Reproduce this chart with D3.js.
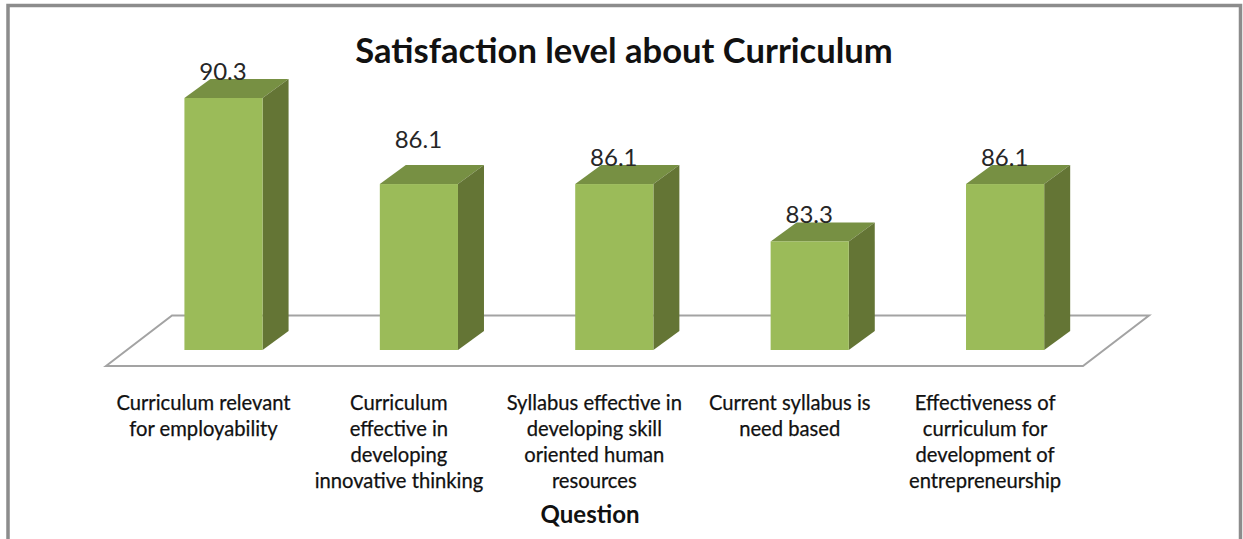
<!DOCTYPE html>
<html lang="en">
<head>
<meta charset="utf-8">
<title>Satisfaction level about Curriculum</title>
<script src="https://cdnjs.cloudflare.com/ajax/libs/d3/7.8.5/d3.min.js"></script>
<style>
    body { margin: 0; background: #fff; }
    svg { display: block; }
    text { font-family: Lato, "Open Sans", sans-serif; fill: #111; }
    .title { font-size: 34.6px; font-weight: 700; }
    .axis-title { font-size: 24px; font-weight: 700; }
    .cat { font-size: 20.2px; stroke: #111; stroke-width: 0.25px; }
    .value { font-size: 24px; fill: #262626; }
</style>
</head>
<body>
<script>
var categories = [
    ["Curriculum relevant", "for employability"],
    ["Curriculum", "effective in", "developing", "innovative thinking"],
    ["Syllabus effective in", "developing skill", "oriented human", "resources"],
    ["Current syllabus is", "need based"],
    ["Effectiveness of", "curriculum for", "development of", "entrepreneurship"]
];
var values = [90.3, 86.1, 86.1, 83.3, 86.1];
var chartTitle = "Satisfaction level about Curriculum";
var axisTitle = "Question";

var width = 1243, height = 539;
var depthX = 26, depthY = 19;   // the fake 3d offset
var baseY = 350;

var svg = d3.select("body").append("svg")
    .attr("width", width).attr("height", height);

// outer frame, runs off the bottom of the picture
svg.append("path")
    .attr("d", "M8," + (height + 5) + "V5.5H1240.5V" + (height + 5))
    .attr("fill", "none").attr("stroke", "#8c8c8c").attr("stroke-width", 3.5);

var keys = d3.range(categories.length);
var x = d3.scaleBand().domain(keys).range([125.8, 1102.8]).paddingInner(0.6).paddingOuter(0.3);
var y = d3.scaleLinear().domain([78, 90.3]).range([baseY, 98]);

// floor
svg.append("path")
    .attr("d", "M106,366L172,315.5H1149L1083,366Z")
    .attr("fill", "#fff").attr("stroke", "#a3a3a3").attr("stroke-width", 2);

var bars = svg.selectAll("g.bar").data(keys).enter().append("g").attr("class", "bar");

// top face
bars.append("path")
    .attr("fill", "#779043")
    .attr("d", function(i) {
        var x0 = x(i), x1 = x0 + x.bandwidth(), t = y(values[i]);
        return "M" + x0 + "," + t + "L" + (x0 + depthX) + "," + (t - depthY) +
            "H" + (x1 + depthX) + "L" + x1 + "," + t + "Z";
    });
// side face
bars.append("path")
    .attr("fill", "#647535")
    .attr("d", function(i) {
        var x1 = x(i) + x.bandwidth(), t = y(values[i]);
        return "M" + x1 + "," + t + "L" + (x1 + depthX) + "," + (t - depthY) +
            "V" + (baseY - depthY) + "L" + x1 + "," + baseY + "Z";
    });
// front face
bars.append("rect")
    .attr("fill", "#9bbb59")
    .attr("x", function(i) { return x(i); })
    .attr("y", function(i) { return y(values[i]); })
    .attr("width", x.bandwidth())
    .attr("height", function(i) { return baseY - y(values[i]); });

// value labels, the second one was moved up by hand in the original
bars.append("text")
    .attr("class", "value")
    .attr("text-anchor", "middle")
    .attr("x", function(i) { return x(i) + x.bandwidth() / 2 - 0.5; })
    .attr("y", function(i) { return y(values[i]) - (i === 1 ? 36 : 18); })
    .text(function(i) { return values[i]; });

// category labels
bars.each(function(i) {
    var t = d3.select(this).append("text")
        .attr("class", "cat")
        .attr("text-anchor", "middle");
    t.selectAll("tspan").data(categories[i]).enter().append("tspan")
        .attr("x", x(i) + x.bandwidth() / 2 - 20)
        .attr("y", function(d, j) { return 410 + j * 26; })
        .text(function(d) { return d; });
});

svg.append("text").attr("class", "title")
    .attr("text-anchor", "middle").attr("x", 624).attr("y", 63)
    .text(chartTitle);

svg.append("text").attr("class", "axis-title")
    .attr("text-anchor", "middle").attr("x", 590).attr("y", 523)
    .text(axisTitle);
</script>
</body>
</html>
